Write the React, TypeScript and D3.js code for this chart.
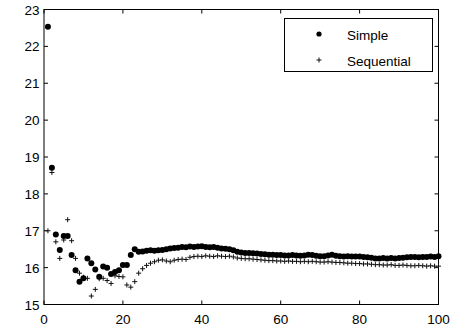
import * as d3 from "d3";

const simple = [
  22.53, 18.71, 16.9, 16.48, 16.86, 16.86, 16.34, 15.93, 15.62, 15.71,
  16.25, 16.12, 15.95, 15.75, 16.03, 16.0, 15.83, 15.88, 15.93, 16.07,
  16.07, 16.34, 16.5, 16.43, 16.44, 16.46, 16.47, 16.46, 16.47, 16.48,
  16.5, 16.52, 16.53, 16.54, 16.56, 16.55, 16.57, 16.56, 16.57, 16.58,
  16.56, 16.55, 16.56, 16.54, 16.52, 16.51, 16.5, 16.47, 16.43, 16.41,
  16.4, 16.4, 16.39, 16.38, 16.37, 16.36, 16.35, 16.35, 16.34, 16.34,
  16.33, 16.33, 16.34, 16.33, 16.32, 16.33, 16.35, 16.34, 16.32, 16.31,
  16.31, 16.33, 16.35, 16.32, 16.31, 16.3, 16.31, 16.3, 16.3, 16.3,
  16.29, 16.28, 16.27, 16.25, 16.25, 16.26, 16.25, 16.26, 16.25, 16.26,
  16.27, 16.28, 16.29, 16.29, 16.28, 16.29, 16.29, 16.3, 16.29, 16.31,
];

const sequential = [
  17.0, 18.58, 16.7, 16.25, 16.75, 17.3, 16.73, 16.25, 15.85, 15.74,
  15.71, 15.23, 15.41, 15.7, 15.71, 15.65, 15.57, 15.78, 15.76, 15.75,
  15.53, 15.47, 15.62, 15.85, 15.97, 16.06, 16.12, 16.16, 16.2, 16.21,
  16.18, 16.16, 16.2, 16.22, 16.23, 16.22, 16.28, 16.3, 16.31, 16.3,
  16.32, 16.31, 16.3, 16.32, 16.31, 16.3, 16.31, 16.29, 16.26, 16.25,
  16.24, 16.24, 16.23, 16.22, 16.21, 16.2, 16.19, 16.19, 16.18, 16.18,
  16.17, 16.18, 16.17, 16.17, 16.16, 16.17, 16.16, 16.17, 16.16, 16.15,
  16.15, 16.16, 16.15, 16.14, 16.14, 16.13, 16.12, 16.12, 16.11, 16.11,
  16.1, 16.1, 16.09, 16.08, 16.08, 16.07, 16.07, 16.08, 16.06, 16.06,
  16.07, 16.06, 16.05, 16.05, 16.06, 16.05, 16.04, 16.05, 16.04, 16.04,
];

const xTicks = [0, 20, 40, 60, 80, 100];
const yTicks = [15, 16, 17, 18, 19, 20, 21, 22, 23];
const legendLabels = ["Simple", "Sequential"];

const W = 458;
const H = 331;
const FONT = "Arial, 'Liberation Sans', sans-serif";

export default function App() {
  const x = d3.scaleLinear().domain([0, 100]).range([44, 438.5]);
  const y = d3.scaleLinear().domain([15, 23]).range([304.5, 9.5]);
  const [x0, x1] = x.range();
  const [y0, y1] = y.range();
  const tick = 4;
  const plus = "M-2.5,0H2.5M0,-2.5V2.5";

  return (
    <svg
      width={W}
      height={H}
      style={{ position: "absolute", left: 0, top: 0, background: "#fff" }}
      fontFamily={FONT}
    >
      <rect x={x0} y={y1} width={x1 - x0} height={y0 - y1} fill="#fff" stroke="#000" strokeWidth={1} />

      {xTicks.map((t) => (
        <g key={"x" + t}>
          <line x1={x(t)} x2={x(t)} y1={y0} y2={y0 - tick} stroke="#000" />
          <line x1={x(t)} x2={x(t)} y1={y1} y2={y1 + tick} stroke="#000" />
          <text x={x(t)} y={323.5} fontSize={13.5} textAnchor="middle">
            {t}
          </text>
        </g>
      ))}
      {yTicks.map((t) => (
        <g key={"y" + t}>
          <line x1={x0} x2={x0 + tick} y1={y(t)} y2={y(t)} stroke="#000" />
          <line x1={x1} x2={x1 - tick} y1={y(t)} y2={y(t)} stroke="#000" />
          <text x={39.5} y={y(t) + 5} fontSize={13.5} textAnchor="end">
            {t}
          </text>
        </g>
      ))}

      {sequential.map((v, i) => (
        <path
          key={"q" + i}
          d={plus}
          transform={`translate(${x(i + 1)},${y(v)})`}
          stroke="#111"
          strokeWidth={1}
          fill="none"
        />
      ))}
      {simple.map((v, i) => (
        <circle key={"s" + i} cx={x(i + 1)} cy={y(v)} r={3} fill="#000" />
      ))}

      <g>
        <rect x={284.5} y={18.5} width={148} height={53} fill="#fff" stroke="#000" strokeWidth={1} />
        <circle cx={319} cy={34} r={2.6} fill="#000" />
        <path d={plus} transform="translate(319,60)" stroke="#111" strokeWidth={1} fill="none" />
        <text x={347} y={39.5} fontSize={13.5}>
          {legendLabels[0]}
        </text>
        <text x={347} y={65.5} fontSize={13.5}>
          {legendLabels[1]}
        </text>
      </g>
    </svg>
  );
}
